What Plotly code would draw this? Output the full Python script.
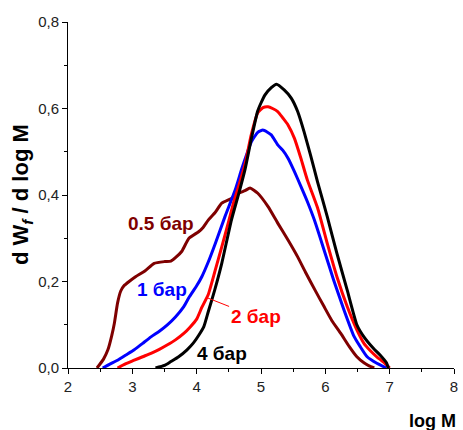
import plotly.graph_objects as go

# 0.5 bar
x_05 = [2.45, 2.55, 2.62, 2.68, 2.72, 2.77, 2.82, 2.87, 2.95, 3.05, 3.2, 3.34, 3.5,
        3.6, 3.67, 3.77, 3.88, 4.03, 4.1, 4.18, 4.29, 4.39, 4.54, 4.65, 4.75, 4.83,
        4.95, 5.11, 5.26, 5.42, 5.57, 5.7, 5.84, 5.98, 6.1, 6.24, 6.37, 6.49, 6.6,
        6.68, 6.76]
y_05 = [0.0, 0.02, 0.042, 0.075, 0.103, 0.15, 0.178, 0.19, 0.2, 0.211, 0.225, 0.242,
        0.246, 0.247, 0.255, 0.27, 0.3, 0.315, 0.325, 0.342, 0.36, 0.381, 0.392,
        0.404, 0.41, 0.416, 0.404, 0.373, 0.335, 0.296, 0.257, 0.219, 0.18, 0.142,
        0.11, 0.08, 0.05, 0.026, 0.012, 0.005, 0.0]

# 1 bar
x_1 = [2.54, 2.65, 2.77, 2.9, 3.03, 3.16, 3.29, 3.42, 3.54, 3.67, 3.8, 3.88, 4.0,
       4.08, 4.18, 4.29, 4.44, 4.6, 4.7, 4.78, 4.85, 4.95, 5.03, 5.1, 5.16, 5.26,
       5.34, 5.42, 5.52, 5.62, 5.72, 5.83, 5.98, 6.13, 6.29, 6.44, 6.54, 6.65, 6.8,
       6.95]
y_1 = [0.0, 0.009, 0.018, 0.03, 0.042, 0.057, 0.072, 0.085, 0.099, 0.118, 0.142,
       0.163, 0.19, 0.211, 0.245, 0.288, 0.35, 0.412, 0.46, 0.495, 0.523, 0.545,
       0.55, 0.545, 0.539, 0.516, 0.503, 0.485, 0.454, 0.42, 0.385, 0.342, 0.273,
       0.203, 0.134, 0.075, 0.05, 0.026, 0.011, 0.0]

# 2 bar
x_2 = [2.77, 2.9, 3.03, 3.16, 3.29, 3.42, 3.54, 3.67, 3.8, 3.9, 4.0, 4.08, 4.18,
       4.29, 4.39, 4.49, 4.57, 4.65, 4.75, 4.85, 4.95, 5.03, 5.11, 5.18, 5.26, 5.34,
       5.42, 5.52, 5.62, 5.72, 5.88, 6.03, 6.18, 6.34, 6.49, 6.6, 6.7, 6.8, 6.9, 7.0]
y_2 = [0.0, 0.01, 0.018, 0.026, 0.034, 0.043, 0.053, 0.065, 0.080, 0.095, 0.113,
       0.14, 0.17, 0.227, 0.28, 0.335, 0.38, 0.419, 0.47, 0.54, 0.59, 0.602, 0.604,
       0.6, 0.593, 0.578, 0.562, 0.531, 0.485, 0.435, 0.37, 0.288, 0.211, 0.142,
       0.088, 0.057, 0.04, 0.026, 0.014, 0.0]

# 4 bar
x_4 = [3.36, 3.5, 3.6, 3.72, 3.85, 3.95, 4.03, 4.11, 4.18, 4.28, 4.39, 4.54, 4.67,
       4.75, 4.85, 4.95, 5.06, 5.16, 5.24, 5.36, 5.47, 5.57, 5.67, 5.77, 5.88, 6.03,
       6.18, 6.34, 6.49, 6.6, 6.75, 6.85, 6.95, 6.98]
y_4 = [0.0, 0.006, 0.015, 0.026, 0.042, 0.058, 0.075, 0.095, 0.13, 0.18, 0.242,
       0.342, 0.412, 0.458, 0.53, 0.595, 0.631, 0.648, 0.656, 0.643, 0.624, 0.593,
       0.546, 0.492, 0.43, 0.35, 0.265, 0.18, 0.1, 0.072, 0.045, 0.03, 0.012, 0.0]

series = [
    ("0.5 бар", x_05, y_05, "#7f0000"),
    ("1 бар", x_1, y_1, "#0000ff"),
    ("2 бар", x_2, y_2, "#ff0000"),
    ("4 бар", x_4, y_4, "#000000"),
]

FONT = "Liberation Sans, Arial, sans-serif"

fig = go.Figure()
for name, xs, ys, col in series:
    fig.add_trace(
        go.Scatter(x=xs, y=ys, name=name, mode="lines",
                   line=dict(color=col, width=3, shape="spline", smoothing=0.5),
                   showlegend=False)
    )

# curve labels
labels = [
    ("0.5 бар", 3.44, 0.335, "#7f0000"),
    ("1 бар", 3.46, 0.182, "#0000ff"),
    ("4 бар", 4.40, 0.034, "#000000"),
]
for text, lx, ly, col in labels:
    fig.add_annotation(x=lx, y=ly, text=f"<b>{text}</b>", showarrow=False,
                       font=dict(family=FONT, size=19, color=col))

# "2 бар" with a thin leader line to the red curve
fig.add_annotation(x=4.17, y=0.162, text="<b>2 бар</b>", showarrow=True,
                   arrowhead=0, arrowwidth=1, arrowcolor="#ff0000",
                   ax=48, ay=19, font=dict(family=FONT, size=19, color="#ff0000"))

# axis titles
fig.add_annotation(xref="paper", yref="paper", x=0, y=0.5, xshift=-46,
                   xanchor="center", yanchor="middle",
                   text="<b>d W<sub><i>f</i></sub> / d log M</b>", textangle=-90,
                   showarrow=False, font=dict(family=FONT, size=22, color="#000000"))
fig.add_annotation(xref="paper", yref="paper", x=1, y=0, yshift=-53, xshift=4,
                   xanchor="right", yanchor="middle",
                   text="<b>log M</b>", showarrow=False,
                   font=dict(family=FONT, size=18, color="#000000"))

axis_common = dict(
    showline=True, linecolor="#000000", linewidth=1, mirror=False,
    ticks="outside", ticklen=5, tickwidth=1, tickcolor="#000000",
    showgrid=False, zeroline=False,
    tickfont=dict(family=FONT, size=15, color="#222222"),
)

fig.update_xaxes(range=[2, 8], tickvals=[2, 3, 4, 5, 6, 7, 8],
                 minor=dict(ticks="outside", ticklen=3, dtick=0.5, tick0=2,
                            tickcolor="#000000", showgrid=False),
                 **axis_common)
fig.update_yaxes(range=[0, 0.8], tickvals=[0, 0.2, 0.4, 0.6, 0.8], tickformat=".1f",
                 minor=dict(ticks="outside", ticklen=3, dtick=0.1, tick0=0,
                            tickcolor="#000000", showgrid=False),
                 **axis_common)

fig.update_layout(
    width=463, height=430,
    margin=dict(l=68, r=5, t=22, b=62),
    paper_bgcolor="white", plot_bgcolor="white",
    separators=",.",
    showlegend=False,
)

# drop the default 8px body margin so the figure fills the window
fig.write_html("out.html", config={"displayModeBar": False},
               post_script="document.body.style.margin = '0';")
